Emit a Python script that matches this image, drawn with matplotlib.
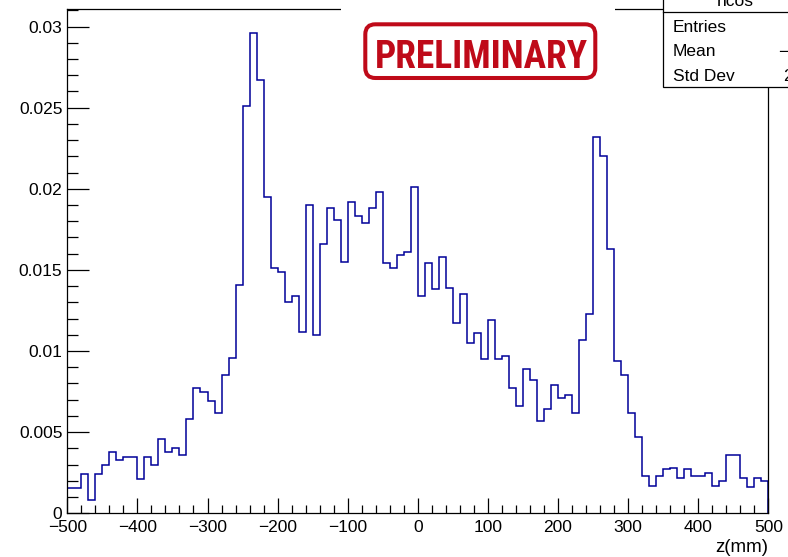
import matplotlib
matplotlib.use("Agg")
import numpy as np
import matplotlib.pyplot as plt
from matplotlib import font_manager
from matplotlib.patches import Rectangle, FancyBboxPatch
from matplotlib.lines import Line2D
from matplotlib.ticker import FixedLocator, MultipleLocator
from matplotlib.transforms import Affine2D

# ---- histogram "hcos": z distribution, 100 bins of 10 mm from -500 to 500 ----
z_low, z_high, n_bins = -500, 500, 100
bin_contents = [
    0.00155, 0.00155, 0.0024, 0.0008, 0.0024, 0.0030, 0.0038, 0.0033, 0.0035, 0.0035,
    0.0021, 0.0035, 0.0030, 0.0046, 0.0038, 0.0040, 0.0036, 0.0058, 0.0077, 0.0075,
    0.0069, 0.0062, 0.0085, 0.0096, 0.0141, 0.0251, 0.0296, 0.0267, 0.0195, 0.0151,
    0.0149, 0.0130, 0.0134, 0.0112, 0.0190, 0.0110, 0.0166, 0.0188, 0.0181, 0.0155,
    0.0192, 0.0183, 0.0179, 0.0188, 0.0198, 0.0154, 0.0151, 0.0159, 0.0161, 0.0201,
    0.0134, 0.0154, 0.0138, 0.0158, 0.0139, 0.0117, 0.0135, 0.0105, 0.0111, 0.0095,
    0.0119, 0.0095, 0.0097, 0.0077, 0.0066, 0.0089, 0.0082, 0.0057, 0.0064, 0.0079,
    0.0071, 0.0073, 0.0062, 0.0107, 0.0123, 0.0232, 0.0220, 0.0163, 0.0094, 0.0085,
    0.0062, 0.0047, 0.0023, 0.0017, 0.0023, 0.0027, 0.0028, 0.00215, 0.0027, 0.0023,
    0.0023, 0.0025, 0.0017, 0.0020, 0.0036, 0.0036, 0.0022, 0.0016, 0.0022, 0.0020,
]

x_ticks = [-500, -400, -300, -200, -100, 0, 100, 200, 300, 400, 500]
x_tick_labels = ["\u2212500", "\u2212400", "\u2212300", "\u2212200", "\u2212100",
                 "0", "100", "200", "300", "400", "500"]
y_ticks = [0, 0.005, 0.01, 0.015, 0.02, 0.025, 0.03]
y_tick_labels = ["0", "0.005", "0.01", "0.015", "0.02", "0.025", "0.03"]
x_title = "z(mm)"

stats_title = "hcos"
stats_rows = ["Entries", "Mean", "Std Dev"]
stamp_text = "PRELIMINARY"

# ---- canvas ----
W, H = 788, 557
plt.rcParams["font.family"] = ["Liberation Sans", "DejaVu Sans"]
fig = plt.figure(figsize=(W / 100, H / 100), dpi=100)
fig.patch.set_facecolor("white")

# pixel coordinates measured from the top-left corner of the canvas
px = Affine2D().scale(1 / W, -1 / H).translate(0, 1) + fig.transFigure

left, right, top, bottom = 67.3, 768.3, 9.0, 513.3
ax = fig.add_axes([left / W, 1 - bottom / H, (right - left) / W, (bottom - top) / H])

edges = np.linspace(z_low, z_high, n_bins + 1)
ax.stairs(bin_contents, edges, color="#000099", linewidth=1.1, baseline=0)

ax.set_xlim(z_low, z_high)
ax.set_ylim(0, 1.05 * max(bin_contents))

ax.xaxis.set_major_locator(FixedLocator(x_ticks))
ax.set_xticklabels(x_tick_labels)
ax.xaxis.set_minor_locator(MultipleLocator(20))
ax.yaxis.set_major_locator(FixedLocator(y_ticks))
ax.set_yticklabels(y_tick_labels)
ax.yaxis.set_minor_locator(MultipleLocator(0.001))

ax.tick_params(which="both", direction="in", top=False, right=False,
               width=0.9, color="black", labelsize=12.5)
ax.tick_params(axis="y", which="major", length=15.6, pad=3.5)
ax.tick_params(axis="y", which="minor", length=7.9)
ax.tick_params(axis="x", which="major", length=10.8, pad=5)
ax.tick_params(axis="x", which="minor", length=6.0)
for s in ax.spines.values():
    s.set_linewidth(0.9)

fig.text(768 / W, 1 - 547 / H, x_title, ha="right", va="center", fontsize=13.5)

# ---- statistics box (runs off the right edge of the canvas) ----
fig.patches.append(Rectangle((663, 87), 200, -120, transform=px, facecolor="white",
                             edgecolor="black", linewidth=0.9, zorder=3))
fig.lines.append(Line2D([663, 800], [12, 12], transform=px, color="black",
                        linewidth=0.9, zorder=4))
fig.text(735, 6.5, stats_title, transform=px, ha="center", va="baseline",
         fontsize=12.5, zorder=5)
for label, base in zip(stats_rows, [32, 56.5, 81]):
    fig.text(673, base, label, transform=px, ha="left", va="baseline",
             fontsize=12.5, zorder=5)
fig.text(778, 56.5, "\u2212", transform=px, ha="left", va="baseline",
         fontsize=12.5, zorder=5)
fig.text(783.5, 81, "2", transform=px, ha="left", va="baseline",
         fontsize=12.5, zorder=5)

# ---- PRELIMINARY stamp (white backing hides the frame behind it) ----
fig.patches.append(Rectangle((341, 0), 274, 90, transform=px, facecolor="white",
                             edgecolor="none", zorder=2))
stamp_red = "#BF0A19"
fig.patches.append(FancyBboxPatch((365.3, 24.3), 230, 53.7,
                                  boxstyle="round,pad=0,rounding_size=10",
                                  transform=px, facecolor="white",
                                  edgecolor=stamp_red, linewidth=2.9, zorder=3))

available = {f.name for f in font_manager.fontManager.ttflist}
stamp_family = "Liberation Sans"
for fam in ["Roboto Condensed", "Open Sans Condensed", "Liberation Sans Narrow",
            "DejaVu Sans Condensed"]:
    if fam in available:
        stamp_family = fam
        break

stamp = fig.text(481, 68.3, stamp_text, transform=px, ha="center", va="baseline",
                 fontsize=26, fontweight="bold", family=stamp_family,
                 color=stamp_red, zorder=5)
fig.canvas.draw()
target_w = 214
bb = stamp.get_window_extent()
stamp.set_fontsize(26 * target_w / bb.width)

fig.savefig("out.png", dpi=100, facecolor="white")
